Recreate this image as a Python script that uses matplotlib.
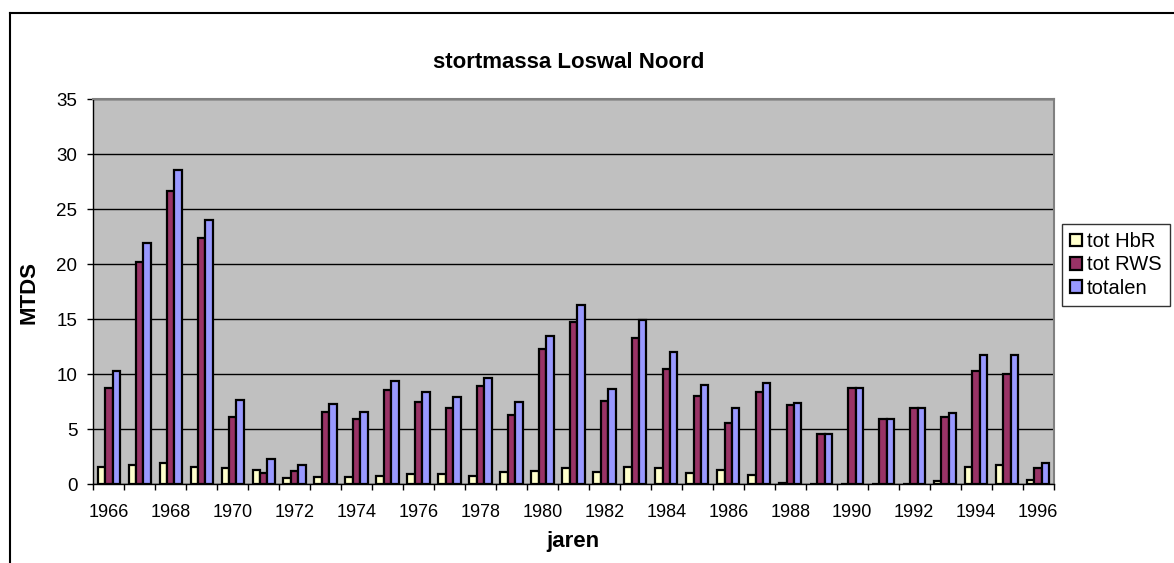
import numpy as np
import matplotlib.pyplot as plt
from matplotlib.lines import Line2D

plt.rcParams['font.family'] = ['Liberation Sans', 'DejaVu Sans']

# storted mass per year (MTDS)
jaren = list(range(1966, 1997))
tot_hbr = [1.6, 1.76, 1.94, 1.6, 1.5, 1.3, 0.6, 0.67, 0.64, 0.8,
           0.9, 0.97, 0.8, 1.1, 1.2, 1.5, 1.1, 1.6, 1.5, 1.06,
           1.27, 0.85, 0.1, 0.0, 0.0, 0.0, 0.0, 0.33, 1.58, 1.79, 0.42]
tot_rws = [8.73, 20.2, 26.7, 22.4, 6.15, 1.0, 1.2, 6.6, 5.9, 8.6,
           7.5, 6.9, 8.9, 6.3, 12.3, 14.8, 7.6, 13.3, 10.5, 8.0,
           5.6, 8.36, 7.24, 4.58, 8.76, 5.94, 6.97, 6.15, 10.27, 10.0, 1.5]
totalen = [10.3, 21.9, 28.6, 24.0, 7.64, 2.3, 1.8, 7.3, 6.55, 9.4,
           8.4, 7.9, 9.7, 7.45, 13.5, 16.3, 8.7, 14.9, 12.0, 9.06,
           6.9, 9.2, 7.36, 4.58, 8.76, 5.94, 6.97, 6.48, 11.8, 11.8, 1.9]

W, H = 1174, 563
fig = plt.figure(figsize=(W / 100, H / 100), dpi=100)
ax = fig.add_axes([93.3 / W, 1 - 484.3 / H, (1053.5 - 93.3) / W, (484.3 - 99.3) / H])
ax.set_facecolor('#C0C0C0')

x = np.arange(len(jaren))
bw = 0.24
series = [(tot_hbr, '#FFFFCC', 'tot HbR'),
          (tot_rws, '#993366', 'tot RWS'),
          (totalen, '#9999FF', 'totalen')]
for i, (vals, col, lab) in enumerate(series):
    ax.bar(x + (i - 1) * bw, vals, bw, color=col, edgecolor='black',
           linewidth=1.6, label=lab, zorder=3)

ax.set_xlim(-0.5, len(jaren) - 0.5)
ax.set_ylim(0, 35)
ax.set_yticks(range(0, 36, 5))
ax.yaxis.grid(True, color='black', linewidth=1, zorder=0)
ax.set_axisbelow(True)

# ticks between the year groups, labels every other year
ax.set_xticks(np.arange(-0.5, len(jaren), 1))
ax.set_xticklabels([])
ax.set_xticks(x[::2], minor=True)
ax.set_xticklabels([str(j) for j in jaren[::2]], minor=True)
ax.tick_params(axis='x', which='major', length=4.5, width=1, direction='out')
ax.tick_params(axis='x', which='minor', length=0, pad=14, labelsize=13)
ax.tick_params(axis='y', length=4.5, width=1, pad=7, labelsize=13.5)

for s in ['top', 'right']:
    ax.spines[s].set_color('#808080')
    ax.spines[s].set_linewidth(1.5)
for s in ['left', 'bottom']:
    ax.spines[s].set_color('black')
    ax.spines[s].set_linewidth(1)

fig.text(569 / W, 1 - 63 / H, 'stortmassa Loswal Noord', ha='center', va='center',
         fontsize=16, fontweight='bold')
fig.text(573 / W, 1 - 541 / H, 'jaren', ha='center', va='center',
         fontsize=16, fontweight='bold')
fig.text(28.5 / W, 1 - 292 / H, 'MTDS', ha='center', va='center', rotation=90,
         fontsize=16, fontweight='bold')

leg = fig.legend(loc='upper left', bbox_to_anchor=(1062 / W, 1 - 224 / H),
                 fontsize=14.5, frameon=True, fancybox=False, edgecolor='black',
                 handlelength=0.6, handleheight=0.6, handletextpad=0.25,
                 labelspacing=0.22, borderpad=0.4, borderaxespad=0)
leg.get_frame().set_linewidth(1)

# outer chart border
fig.add_artist(Line2D([9.5 / W, 9.5 / W], [0, 1 - 12.7 / H], color='black', linewidth=1.5))
fig.add_artist(Line2D([9.5 / W, 1], [1 - 12.7 / H, 1 - 12.7 / H], color='black', linewidth=1.5))

fig.savefig('out.png', dpi=100)
